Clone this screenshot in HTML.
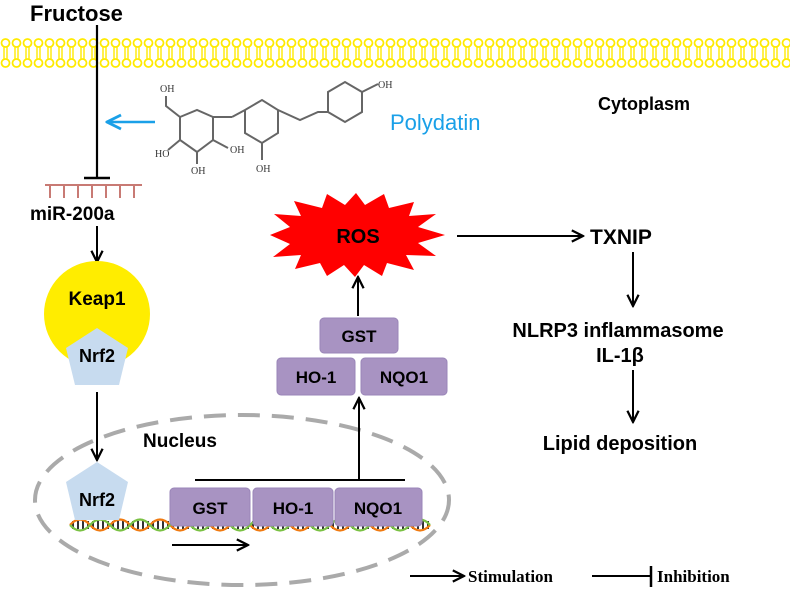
<!DOCTYPE html>
<html><head><meta charset="utf-8"><style>
html,body{margin:0;padding:0;background:#fff}
svg{display:block}
text{font-family:"Liberation Sans",Arial,sans-serif;font-weight:bold}
</style></head><body>
<svg width="790" height="591" viewBox="0 0 790 591" xmlns="http://www.w3.org/2000/svg">
<defs>
<marker id="ah" viewBox="0 0 10 10" refX="9" refY="5" markerWidth="7" markerHeight="7" orient="auto"><path d="M1,1 L9,5 L1,9" fill="none" stroke="#000" stroke-width="1.6"/></marker>
<marker id="ahb" viewBox="0 0 10 10" refX="9" refY="5" markerWidth="7" markerHeight="7" orient="auto"><path d="M1,1 L9,5 L1,9" fill="none" stroke="#1aa0e8" stroke-width="1.6"/></marker>
<pattern id="lip" x="0" y="38" width="11" height="30" patternUnits="userSpaceOnUse">
<circle cx="5.5" cy="5" r="4" fill="none" stroke="#ffea00" stroke-width="1.8"/>
<circle cx="5.5" cy="25" r="4" fill="none" stroke="#ffea00" stroke-width="1.8"/>
<line x1="4" y1="9" x2="4" y2="21" stroke="#ffea00" stroke-width="1.4"/>
<line x1="7" y1="9" x2="7" y2="21" stroke="#ffea00" stroke-width="1.4"/>
</pattern>
</defs>
<rect x="0" y="38" width="790" height="30" fill="url(#lip)"/>
<text x="30" y="21" font-size="22">Fructose</text>
<line x1="97" y1="25" x2="97" y2="178" stroke="#000" stroke-width="2.2"/>
<line x1="84" y1="178" x2="110" y2="178" stroke="#000" stroke-width="2.5"/>
<g stroke="#c87a74" stroke-width="2">
<line x1="45" y1="185" x2="142" y2="185"/>
<line x1="50" y1="185" x2="50" y2="198"/><line x1="64" y1="185" x2="64" y2="198"/><line x1="78" y1="185" x2="78" y2="198"/><line x1="92" y1="185" x2="92" y2="198"/><line x1="106" y1="185" x2="106" y2="198"/><line x1="120" y1="185" x2="120" y2="198"/><line x1="134" y1="185" x2="134" y2="198"/>
</g>
<text x="30" y="220" font-size="19">miR-200a</text>
<line x1="97" y1="226" x2="97" y2="262" stroke="#000" stroke-width="2" marker-end="url(#ah)"/>
<line x1="155" y1="122" x2="107" y2="122" stroke="#1aa0e8" stroke-width="2.5" marker-end="url(#ahb)"/>
<text x="390" y="130" font-size="22" fill="#1aa0e8" style="font-weight:normal">Polydatin</text>
<text x="598" y="110" font-size="18">Cytoplasm</text>
<!-- molecule -->
<g stroke="#666" stroke-width="2" fill="none">
<path d="M180,117 L197,110 L213,117 L213,140 L197,152 L180,140 Z"/>
<path d="M180,117 L166,106 L166,96 M213,140 L228,148 M197,152 L197,164 M180,140 L168,150 M213,117 L232,117"/>
<path d="M232,117 L245,110 L262,100 L278,110 L278,133 L262,143 L245,133 L245,110 M262,143 L262,160 M278,110 L300,120 L318,112 L328,112 M328,112 L328,92 L345,82 L362,92 L362,112 L345,122 L328,112 M362,92 L378,84"/>
</g>
<g font-family="Liberation Serif,serif" font-size="10" fill="#333">
<text x="160" y="92" style="font-weight:normal;font-family:'Liberation Serif',serif">OH</text>
<text x="230" y="153" style="font-weight:normal;font-family:'Liberation Serif',serif">OH</text>
<text x="191" y="174" style="font-weight:normal;font-family:'Liberation Serif',serif">OH</text>
<text x="155" y="157" style="font-weight:normal;font-family:'Liberation Serif',serif">HO</text>
<text x="256" y="172" style="font-weight:normal;font-family:'Liberation Serif',serif">OH</text>
<text x="378" y="88" style="font-weight:normal;font-family:'Liberation Serif',serif">OH</text>
</g>
<!-- Keap1 / Nrf2 -->
<circle cx="97" cy="314" r="53" fill="#ffed00"/>
<text x="97" y="305" font-size="19" text-anchor="middle">Keap1</text>
<polygon points="97,328 128,348 119,385 75,385 66,348" fill="#c7dbef"/>
<text x="97" y="362" font-size="18" text-anchor="middle">Nrf2</text>
<line x1="97" y1="392" x2="97" y2="460" stroke="#000" stroke-width="2" marker-end="url(#ah)"/>
<!-- nucleus -->
<ellipse cx="242" cy="500" rx="207" ry="85" fill="none" stroke="#aaa" stroke-width="4" stroke-dasharray="22,12"/>
<text x="143" y="447" font-size="19">Nucleus</text>
<!-- DNA -->
<line x1="72" y1="525" x2="430" y2="525" stroke="#333" stroke-width="8" stroke-dasharray="2,3"/>
<path d="M70,525 Q80,514 90,525 T110,525 T130,525 T150,525 T170,525 T190,525 T210,525 T230,525 T250,525 T270,525 T290,525 T310,525 T330,525 T350,525 T370,525 T390,525 T410,525 T430,525" fill="none" stroke="#f07a10" stroke-width="2.2"/>
<path d="M70,525 Q80,536 90,525 T110,525 T130,525 T150,525 T170,525 T190,525 T210,525 T230,525 T250,525 T270,525 T290,525 T310,525 T330,525 T350,525 T370,525 T390,525 T410,525 T430,525" fill="none" stroke="#7ac143" stroke-width="2.2"/>
<polygon points="97,462 128,482 119,520 75,520 66,482" fill="#c7dbef"/>
<text x="97" y="506" font-size="18" text-anchor="middle">Nrf2</text>
<line x1="172" y1="545" x2="248" y2="545" stroke="#000" stroke-width="2" marker-end="url(#ah)"/>
<g fill="#a893c2" stroke="#9a86b8">
<rect x="170" y="488" width="80" height="38" rx="4"/>
<rect x="253" y="488" width="80" height="38" rx="4"/>
<rect x="335" y="488" width="87" height="38" rx="4"/>
<rect x="320" y="318" width="78" height="35" rx="4"/>
<rect x="277" y="358" width="78" height="37" rx="4"/>
<rect x="361" y="358" width="86" height="37" rx="4"/>
</g>
<g font-size="17" text-anchor="middle">
<text x="210" y="514">GST</text><text x="293" y="514">HO-1</text><text x="378" y="514">NQO1</text>
<text x="359" y="342">GST</text><text x="316" y="383">HO-1</text><text x="404" y="383">NQO1</text>
</g>
<line x1="195" y1="480" x2="405" y2="480" stroke="#000" stroke-width="2"/>
<line x1="359" y1="480" x2="359" y2="398" stroke="#000" stroke-width="2" marker-end="url(#ah)"/>
<line x1="358" y1="316" x2="358" y2="277" stroke="#000" stroke-width="2" marker-end="url(#ah)"/>
<!-- ROS star -->
<polygon fill="#ff0000" points="445,235 418,243 436,256 406,255 414,270 387,263 382,276 364,265 355,277 344,265 327,276 320,263 295,269 301,255 273,257 290,244 270,235 290,227 274,214 301,216 294,201 322,208 327,194 345,205 356,193 365,205 384,194 389,208 414,202 409,216 436,214 418,227"/>
<text x="358" y="243" font-size="20" text-anchor="middle">ROS</text>
<line x1="457" y1="236" x2="583" y2="236" stroke="#000" stroke-width="2" marker-end="url(#ah)"/>
<text x="590" y="244" font-size="21">TXNIP</text>
<line x1="633" y1="252" x2="633" y2="306" stroke="#000" stroke-width="2" marker-end="url(#ah)"/>
<text x="618" y="337" font-size="20" text-anchor="middle">NLRP3 inflammasome</text>
<text x="620" y="362" font-size="20" text-anchor="middle">IL-1β</text>
<line x1="633" y1="370" x2="633" y2="422" stroke="#000" stroke-width="2" marker-end="url(#ah)"/>
<text x="620" y="450" font-size="20" text-anchor="middle">Lipid deposition</text>
<!-- legend -->
<line x1="410" y1="576" x2="464" y2="576" stroke="#000" stroke-width="2" marker-end="url(#ah)"/>
<text x="468" y="582" font-size="17" style="font-family:'Liberation Serif',serif">Stimulation</text>
<line x1="592" y1="576" x2="650" y2="576" stroke="#000" stroke-width="2"/>
<line x1="651" y1="566" x2="651" y2="587" stroke="#000" stroke-width="2.5"/>
<text x="657" y="582" font-size="17" style="font-family:'Liberation Serif',serif">Inhibition</text>
</svg>
</body></html>
